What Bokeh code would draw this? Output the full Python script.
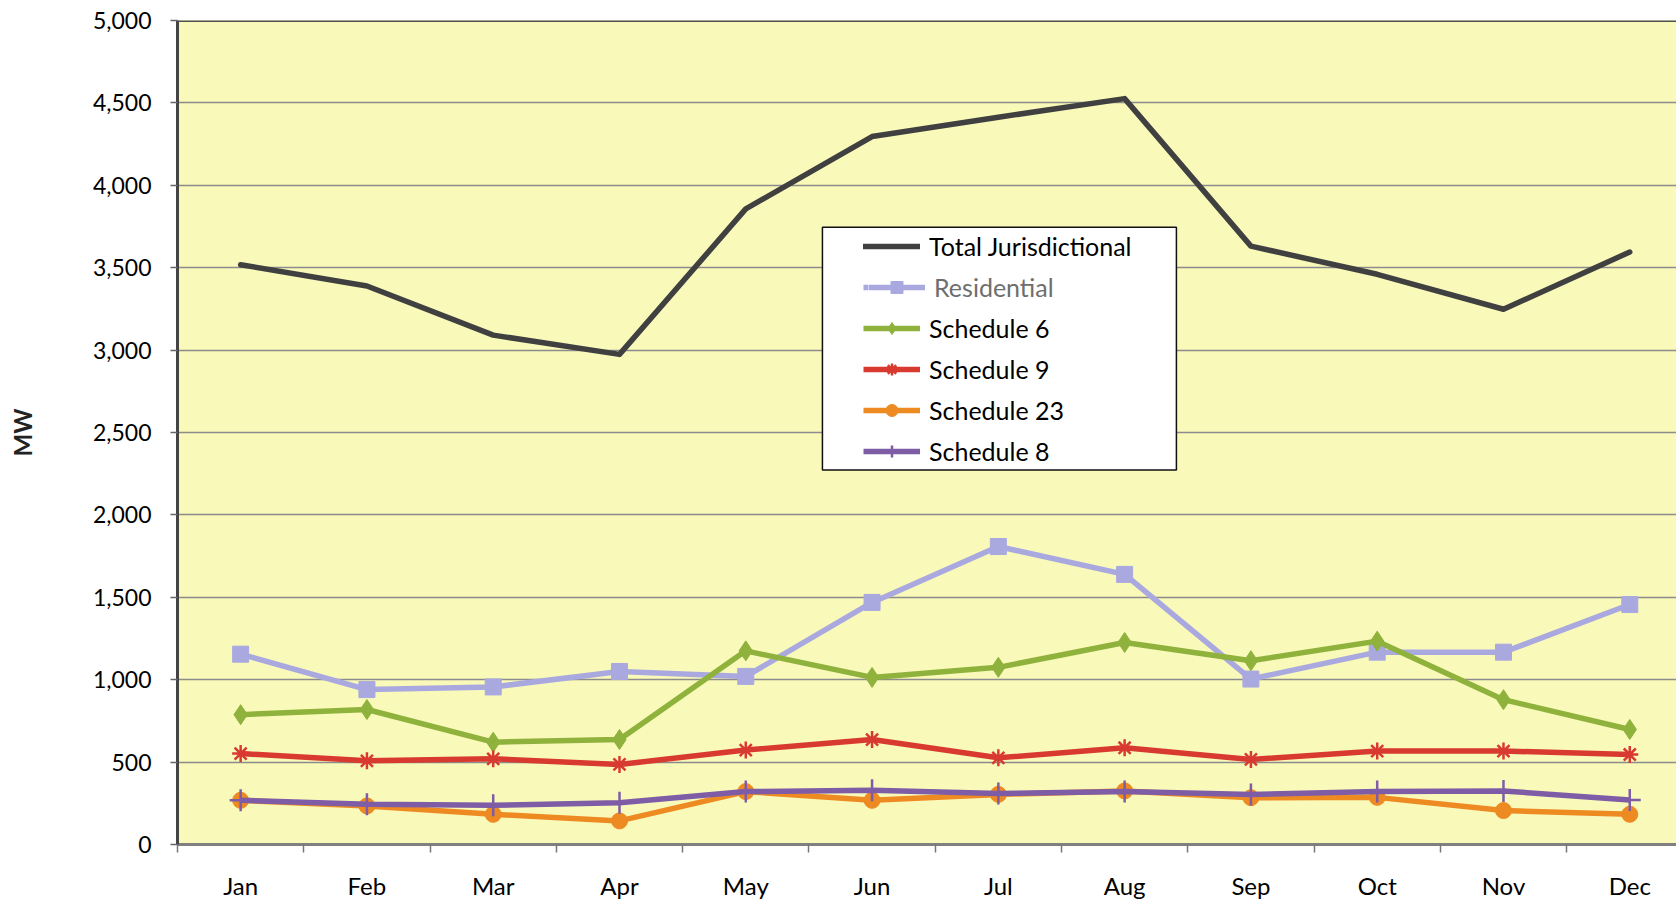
from bokeh.plotting import figure
from bokeh.models import (Range1d, FixedTicker, NumeralTickFormatter, Legend,
                          LegendItem, BoxAnnotation, Span)
from bokeh.embed import file_html
from bokeh.resources import INLINE

months = ["Jan", "Feb", "Mar", "Apr", "May", "Jun", "Jul", "Aug", "Sep", "Oct", "Nov", "Dec"]
total = [3518, 3389, 3091, 2974, 3857, 4296, 4413, 4526, 3631, 3460, 3248, 3595]
residential = [1155, 940, 956, 1050, 1020, 1469, 1808, 1639, 1004, 1167, 1167, 1456]
sched6 = [788, 819, 621, 637, 1175, 1014, 1075, 1226, 1115, 1234, 879, 698]
sched9 = [552, 508, 520, 486, 573, 637, 526, 587, 516, 567, 567, 546]
sched23 = [268, 234, 183, 143, 321, 268, 304, 325, 284, 286, 206, 183]
sched8 = [268, 244, 238, 254, 321, 329, 310, 321, 304, 321, 325, 270]
y_ticks = list(range(0, 5001, 500))

x = [i + 0.5 for i in range(len(months))]
FONT = "Lato"

p = figure(frame_width=1499, frame_height=824, output_backend="svg", toolbar_location=None,
           x_range=Range1d(0, 11.87), y_range=Range1d(0, 5000),
           min_border_left=177, min_border_right=0, min_border_top=20, min_border_bottom=56)
p.background_fill_color = "#F9F9BA"
p.border_fill_color = "white"
p.outline_line_color = None

# axes
p.xaxis.ticker = FixedTicker(ticks=x, minor_ticks=list(range(13)))
p.xaxis.major_label_overrides = {xi: m for xi, m in zip(x, months)}
p.xaxis.major_tick_out = 0
p.xaxis.major_tick_in = 0
p.xaxis.minor_tick_out = 8
p.xaxis.minor_tick_in = 0
p.xaxis.minor_tick_line_color = "#777777"
p.xaxis.minor_tick_line_width = 1.5
p.xaxis.axis_line_color = "#808080"
p.xaxis.axis_line_width = 3
p.xaxis.major_label_standoff = 18
p.xaxis.major_label_text_font = FONT
p.xaxis.major_label_text_font_size = "24px"
p.xaxis.major_label_text_color = "#000000"

p.yaxis.ticker = FixedTicker(ticks=y_ticks)
p.yaxis.formatter = NumeralTickFormatter(format="0,0")
p.yaxis.major_tick_out = 7
p.yaxis.major_tick_in = 0
p.yaxis.minor_tick_out = 0
p.yaxis.minor_tick_in = 0
p.yaxis.major_tick_line_color = "#666666"
p.yaxis.major_tick_line_width = 1.5
p.yaxis.axis_line_color = "#444444"
p.yaxis.axis_line_width = 3
p.yaxis.major_label_standoff = 19
p.yaxis.major_label_text_font = FONT
p.yaxis.major_label_text_font_size = "23px"
p.yaxis.major_label_text_color = "#000000"
p.yaxis.axis_label = "MW"
p.yaxis.axis_label_text_font = FONT
p.yaxis.axis_label_text_font_size = "24px"
p.yaxis.axis_label_text_font_style = "bold"
p.yaxis.axis_label_text_color = "#222222"
p.yaxis.axis_label_standoff = 53

p.xgrid.grid_line_color = None
p.ygrid.ticker = FixedTicker(ticks=y_ticks)
p.ygrid.grid_line_color = "#8C8C8C"
p.ygrid.grid_line_width = 1.5

p.add_layout(Span(location=5000, dimension="width", line_color="#505050", line_width=3))

# series
LW = 5.5
r_tot = p.line(x, total, line_color="#404040", line_width=LW, line_cap="round", line_join="round")

r_res_l = p.line(x, residential, line_color="#A9A9E0", line_width=LW, line_join="round")
r_res_m = p.scatter(x, residential, marker="square", size=16, fill_color="#A9A9E0",
                    line_color="#A9A9E0")

r_s6_l = p.line(x, sched6, line_color="#8FB23C", line_width=LW, line_join="round")
r_s6_m = p.scatter(x, sched6, marker="diamond", size=20, fill_color="#8FB23C",
                   line_color="#8FB23C")

r_s9_l = p.line(x, sched9, line_color="#D83A30", line_width=LW, line_join="round")
r_s9_m = p.scatter(x, sched9, marker="asterisk", size=17, line_color="#D83A30",
                   line_width=2.5)

r_s23_l = p.line(x, sched23, line_color="#EE8A22", line_width=LW, line_join="round")
r_s23_m = p.scatter(x, sched23, marker="circle", size=16, fill_color="#EE8A22",
                    line_color="#EE8A22")

r_s8_l = p.line(x, sched8, line_color="#7E5CA6", line_width=LW, line_join="round")
r_s8_m = p.scatter(x, sched8, marker="cross", size=22, line_color="#7E5CA6",
                   line_width=2.5)

# legend frame
p.add_layout(BoxAnnotation(left=5.107, right=7.91, top=3745, bottom=2273,
                           fill_color="white", fill_alpha=1.0,
                           line_color="#111111", line_width=1.5, line_alpha=1.0))

PAD, H, SP, GW = 5, 30, 11, 57
items = [
    LegendItem(label="Total Jurisdictional", renderers=[r_tot]),
    LegendItem(label=" ", renderers=[r_res_l, r_res_m]),
    LegendItem(label="Schedule 6", renderers=[r_s6_l, r_s6_m]),
    LegendItem(label="Schedule 9", renderers=[r_s9_l, r_s9_m]),
    LegendItem(label="Schedule 23", renderers=[r_s23_l, r_s23_m]),
    LegendItem(label="Schedule 8", renderers=[r_s8_l, r_s8_m]),
]
legend_x = 686
legend_y = 378


def style(lg, pad):
    lg.padding = pad
    lg.spacing = SP
    lg.margin = 0
    lg.glyph_width = GW
    lg.glyph_height = H
    lg.label_height = H
    lg.label_standoff = 9
    lg.label_text_font = FONT
    lg.label_text_font_size = "25px"
    lg.border_line_color = None


main = Legend(items=items, location=(legend_x, legend_y))
style(main, PAD)
main.background_fill_alpha = 0
main.label_text_color = "#000000"
p.add_layout(main)

# second legend carrying the grey "Residential" label on row two
row_bottom = legend_y + 4 * H + 4 * SP
res = Legend(items=[LegendItem(label="Residential", renderers=[r_res_l, r_res_m])],
             location=(legend_x + PAD, row_bottom))
style(res, 0)
res.background_fill_color = "white"
res.background_fill_alpha = 1.0
res.label_text_color = "#6E6E6E"
p.add_layout(res)

open("out.html", "w").write(file_html(p, INLINE))
